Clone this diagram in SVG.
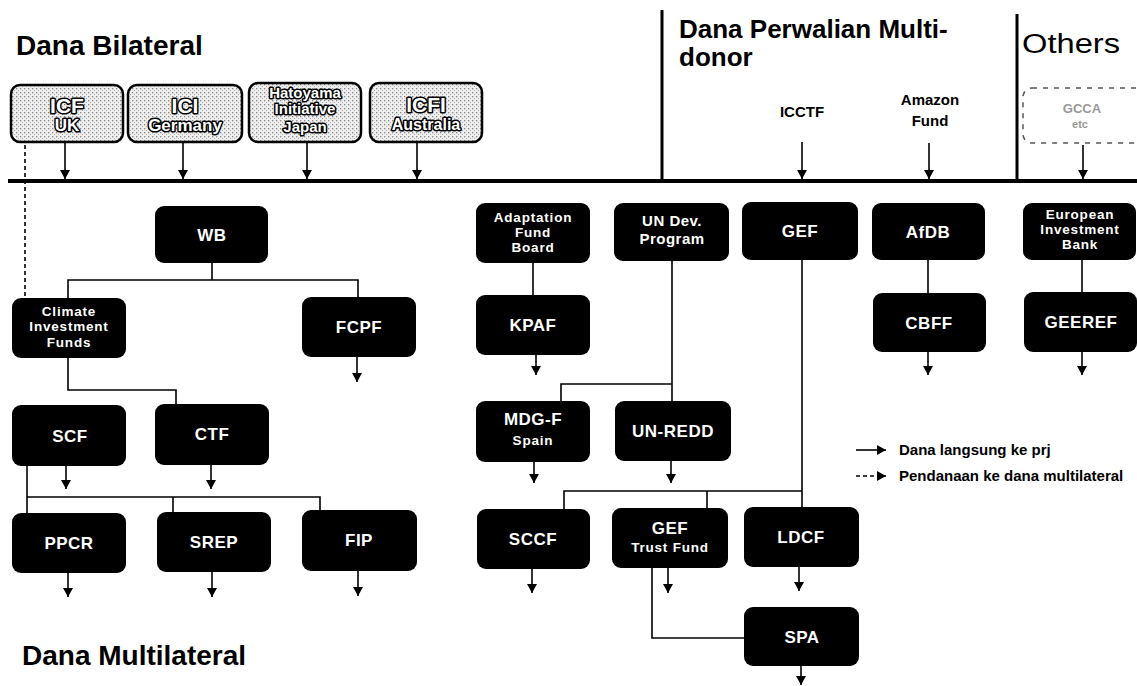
<svg xmlns="http://www.w3.org/2000/svg" width="1137" height="686" viewBox="0 0 1137 686">
<style>
.bg{fill:#fff}
.head{font-family:"Liberation Sans",Arial,sans-serif;font-weight:bold;font-size:28px;fill:#000}
.head2{font-family:"Liberation Sans",Arial,sans-serif;font-weight:bold;font-size:26px;fill:#000}
.headr{font-family:"Liberation Sans",Arial,sans-serif;font-size:27px;fill:#000}
.node rect{fill:#000}
.node text{font-family:"Liberation Sans",Arial,sans-serif;font-weight:bold;fill:#fff;text-anchor:middle}
.big{font-size:17px;letter-spacing:0.5px}
.mid{font-size:15px;letter-spacing:0.5px}
.small{font-size:13.5px;letter-spacing:0.8px}
.donor rect{fill:url(#dots);stroke:#000;stroke-width:2.5}
.donor text{font-family:"Liberation Sans",Arial,sans-serif;font-weight:bold;fill:#fff;stroke:#000;stroke-width:3;paint-order:stroke;text-anchor:middle;stroke-linejoin:round}
.plain text{font-family:"Liberation Sans",Arial,sans-serif;font-weight:bold;font-size:15px;fill:#000;text-anchor:middle}
.conn line,.conn polyline{stroke:#000;stroke-width:1.6;fill:none}
.arr{marker-end:url(#ah)}
.dash{stroke-dasharray:4 3}
.legend text{font-family:"Liberation Sans",Arial,sans-serif;font-weight:bold;font-size:15px;fill:#000}
</style>
<defs>
<pattern id="dots" width="4" height="4" patternUnits="userSpaceOnUse">
<rect width="4" height="4" fill="#eeeeee"/>
<rect x="0" y="0" width="1.3" height="1.3" fill="#888"/>
<rect x="2" y="2" width="1" height="1" fill="#aaa"/>
</pattern>
<marker id="ah" markerWidth="9" markerHeight="10" refX="9" refY="5" orient="auto" markerUnits="userSpaceOnUse">
<path d="M0,0 L9,5 L0,10 z" fill="#000"/>
</marker>
</defs>
<rect class="bg" width="1137" height="686"/>

<g id="headings">
<text class="head" x="16" y="55">Dana Bilateral</text>
<text class="head2" x="679" y="38">Dana Perwalian Multi-</text>
<text class="head2" x="679" y="66">donor</text>
<text class="headr" x="1022" y="53" textLength="98" lengthAdjust="spacingAndGlyphs">Others</text>
<text class="head" x="22" y="665">Dana Multilateral</text>
</g>

<g id="frame">
<line x1="8" y1="181" x2="1137" y2="181" stroke="#000" stroke-width="4"/>
<line x1="662" y1="10" x2="662" y2="181" stroke="#000" stroke-width="3"/>
<line x1="1017" y1="14" x2="1017" y2="181" stroke="#000" stroke-width="3"/>
</g>

<g id="icf-uk" class="donor">
<rect x="11" y="85" width="112" height="57" rx="9"/>
<text x="67" y="113" font-size="21">ICF</text>
<text x="67" y="131" font-size="17">UK</text>
</g>
<g id="ici-germany" class="donor">
<rect x="128" y="85" width="114" height="57" rx="9"/>
<text x="185" y="113" font-size="21">ICI</text>
<text x="185" y="131" font-size="17">Germany</text>
</g>
<g id="hatoyama" class="donor">
<rect x="249" y="83" width="112" height="59" rx="9"/>
<text x="305" y="98" font-size="15">Hatoyama</text>
<text x="305" y="114" font-size="15">Initiative</text>
<text x="305" y="132" font-size="15">Japan</text>
</g>
<g id="icfi-australia" class="donor">
<rect x="370" y="83" width="112" height="59" rx="9"/>
<text x="426" y="112" font-size="21">ICFI</text>
<text x="426" y="130" font-size="16">Australia</text>
</g>
<g id="icctf" class="plain">
<text x="802" y="117">ICCTF</text>
</g>
<g id="amazon" class="plain">
<text x="930" y="105">Amazon</text>
<text x="930" y="126">Fund</text>
</g>
<g id="others-box">
<rect x="1023" y="88" width="130" height="55" rx="9" fill="none" stroke="#555" stroke-width="1.5" stroke-dasharray="5 6"/>
<text x="1082" y="113" font-family="Liberation Sans, Arial, sans-serif" font-weight="bold" font-size="13" fill="#999" text-anchor="middle">GCCA</text>
<text x="1080" y="128" font-family="Liberation Sans, Arial, sans-serif" font-weight="bold" font-size="11" fill="#999" text-anchor="middle">etc</text>
</g>

<g id="wb" class="node"><rect x="155" y="206" width="113" height="57" rx="9"/><text class="big" x="212" y="241">WB</text></g>
<g id="cif" class="node"><rect x="12" y="298" width="114" height="60" rx="9"/>
<text class="small" x="69" y="316">Climate</text><text class="small" x="69" y="331">Investment</text><text class="small" x="69" y="347">Funds</text></g>
<g id="fcpf" class="node"><rect x="302" y="297" width="114" height="60" rx="9"/><text class="big" x="359" y="333">FCPF</text></g>
<g id="scf" class="node"><rect x="12" y="405" width="114" height="61" rx="9"/><text class="big" x="70" y="442">SCF</text></g>
<g id="ctf" class="node"><rect x="155" y="404" width="114" height="61" rx="9"/><text class="big" x="212" y="440">CTF</text></g>
<g id="ppcr" class="node"><rect x="12" y="513" width="114" height="60" rx="9"/><text class="big" x="69" y="549">PPCR</text></g>
<g id="srep" class="node"><rect x="157" y="512" width="114" height="60" rx="9"/><text class="big" x="214" y="548">SREP</text></g>
<g id="fip" class="node"><rect x="302" y="510" width="115" height="61" rx="9"/><text class="big" x="359" y="546">FIP</text></g>

<g id="afb" class="node"><rect x="476" y="203" width="114" height="60" rx="9"/>
<text class="small" x="533" y="222">Adaptation</text><text class="small" x="533" y="237">Fund</text><text class="small" x="533" y="252">Board</text></g>
<g id="undp" class="node"><rect x="614" y="203" width="115" height="58" rx="9"/>
<text class="mid" x="672" y="226">UN Dev.</text><text class="mid" x="672" y="244">Program</text></g>
<g id="gef" class="node"><rect x="742" y="202" width="116" height="58" rx="9"/><text class="big" x="800" y="237">GEF</text></g>
<g id="kpaf" class="node"><rect x="476" y="295" width="114" height="60" rx="9"/><text class="big" x="533" y="331">KPAF</text></g>
<g id="mdgf" class="node"><rect x="476" y="401" width="114" height="61" rx="9"/>
<text class="big" x="533" y="425">MDG-F</text><text class="small" x="533" y="445">Spain</text></g>
<g id="unredd" class="node"><rect x="615" y="401" width="116" height="60" rx="9"/><text class="big" x="673" y="437">UN-REDD</text></g>
<g id="sccf" class="node"><rect x="477" y="509" width="113" height="60" rx="9"/><text class="big" x="533" y="545">SCCF</text></g>
<g id="geftf" class="node"><rect x="612" y="508" width="116" height="60" rx="9"/>
<text class="big" x="670" y="534">GEF</text><text class="small" x="670" y="552">Trust Fund</text></g>
<g id="ldcf" class="node"><rect x="744" y="507" width="115" height="60" rx="9"/><text class="big" x="801" y="543">LDCF</text></g>
<g id="spa" class="node"><rect x="744" y="607" width="115" height="59" rx="9"/><text class="big" x="802" y="643">SPA</text></g>
<g id="afdb" class="node"><rect x="872" y="203" width="113" height="57" rx="9"/><text class="big" x="928" y="238">AfDB</text></g>
<g id="cbff" class="node"><rect x="873" y="293" width="113" height="59" rx="9"/><text class="big" x="929" y="329">CBFF</text></g>
<g id="eib" class="node"><rect x="1023" y="203" width="113" height="57" rx="9"/>
<text class="small" x="1080" y="219">European</text><text class="small" x="1080" y="234">Investment</text><text class="small" x="1080" y="249">Bank</text></g>
<g id="geeref" class="node"><rect x="1024" y="292" width="113" height="60" rx="9"/><text class="big" x="1081" y="328">GEEREF</text></g>

<g id="connectors" class="conn">
<line class="arr" x1="65" y1="142" x2="65" y2="179"/>
<line class="arr" x1="183" y1="142" x2="183" y2="179"/>
<line class="arr" x1="307" y1="142" x2="307" y2="179"/>
<line class="arr" x1="417" y1="142" x2="417" y2="179"/>
<line class="arr" x1="802" y1="142" x2="802" y2="179"/>
<line class="arr" x1="929" y1="143" x2="929" y2="179"/>
<line class="arr" x1="1083" y1="145" x2="1083" y2="179"/>
<line class="dash" x1="25" y1="145" x2="25" y2="298"/>

<polyline points="212,263 212,280"/>
<polyline points="68,298 68,280 358,280 358,297"/>
<line class="arr" x1="357" y1="357" x2="357" y2="382"/>
<polyline points="68,358 68,390 176,390 176,404"/>
<line class="arr" x1="66" y1="466" x2="66" y2="489"/>
<line class="arr" x1="211" y1="465" x2="211" y2="489"/>
<polyline points="27,466 27,513"/>
<polyline points="27,497 320,497 320,510"/>
<polyline points="173,497 173,512"/>
<line class="arr" x1="68" y1="573" x2="68" y2="597"/>
<line class="arr" x1="212" y1="572" x2="212" y2="597"/>
<line class="arr" x1="358" y1="571" x2="358" y2="596"/>

<polyline points="533,263 533,295"/>
<line class="arr" x1="536" y1="355" x2="536" y2="375"/>
<polyline points="672,261 672,401"/>
<polyline points="672,384 561,384 561,401"/>
<line class="arr" x1="534" y1="462" x2="534" y2="483"/>
<line class="arr" x1="671" y1="461" x2="671" y2="483"/>
<polyline points="802,260 802,507"/>
<polyline points="802,491 564,491 564,509"/>
<polyline points="707,491 707,508"/>
<line class="arr" x1="532" y1="569" x2="532" y2="593"/>
<line class="arr" x1="668" y1="568" x2="668" y2="593"/>
<line class="arr" x1="799" y1="567" x2="799" y2="591"/>
<polyline points="652,568 652,638 744,638"/>
<line class="arr" x1="801" y1="666" x2="801" y2="685"/>

<polyline points="928,260 928,293"/>
<line class="arr" x1="928" y1="352" x2="928" y2="375"/>
<polyline points="1082,260 1082,292"/>
<line class="arr" x1="1082" y1="352" x2="1082" y2="375"/>
</g>

<g id="legend" class="legend">
<line x1="856" y1="450" x2="886" y2="450" stroke="#000" stroke-width="1.6" marker-end="url(#ah)"/>
<text x="899" y="455">Dana langsung ke prj</text>
<line x1="856" y1="476" x2="886" y2="476" stroke="#000" stroke-width="1.6" stroke-dasharray="4 3" marker-end="url(#ah)"/>
<text x="899" y="481">Pendanaan ke dana multilateral</text>
</g>
</svg>
